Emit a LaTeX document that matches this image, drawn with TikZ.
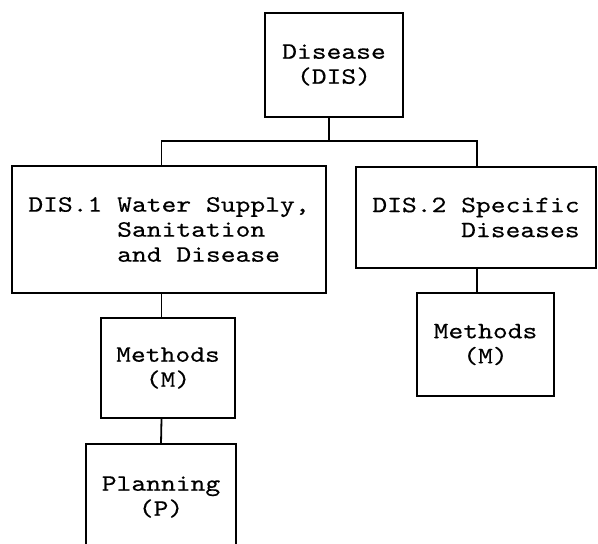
\documentclass[tikz,border=0pt]{standalone}
\usepackage{fontspec}
\setmonofont{lmmono10-regular.otf}[FakeStretch=1.2, FakeBold=0.4]
\usepackage{tikz}

\begin{document}
\begin{tikzpicture}[x=1pt, y=-1pt,
  box/.style={draw, line width=1.8pt, inner sep=0pt, align=center,
    font=\ttfamily\fontsize{23.5}{25}\selectfont},
  link/.style={line width=1.8pt}]
\useasboundingbox (0,0) rectangle (598,544);

% Top box
\node[box, minimum width=138pt, minimum height=104pt] (dis) at (334,65) {Disease\\(DIS)};

% Second level
\node[box, minimum width=314pt, minimum height=127pt, align=left] (dis1) at (169,229.5)
  {DIS.1 Water Supply,\\\phantom{DIS.1 }Sanitation\\\phantom{DIS.1 }and Disease};
\node[box, minimum width=240pt, minimum height=101pt, align=left] (dis2) at (476,217.5)
  {DIS.2 Specific\\\phantom{DIS.2 }Diseases};

% Methods boxes
\node[box, minimum width=134pt, minimum height=100pt] (meth1) at (168,368) {Methods\\(M)};
\node[box, minimum width=137pt, minimum height=103pt] (meth2) at (485.5,344.5) {Methods\\(M)};

% Planning box, open at the foot
\node[box, draw=none, minimum width=148pt] (plan) at (161,497) {Planning\\(P)};
\coordinate (planTop) at (161,444);
\coordinate (planFoot) at (161,544);
\draw[link] (plan.west |- planFoot) -- (plan.west |- planTop) -- (plan.east |- planTop) -- (plan.east |- planFoot);

% Connectors
\coordinate (colT) at (329,0);
\coordinate (colL) at (161.5,0);
\coordinate (colR) at (477,0);
\coordinate (bus) at (0,141);
\draw[link] (dis.south -| colT) -- (colT |- bus);
\draw[link] (dis1.north -| colL) |- (bus -| colR) -- (dis2.north -| colR);
\draw[link] (dis1.south -| colL) -- (meth1.north -| colL);
\draw[link] (meth1.south -| colL) -- (planTop);
\draw[link] (dis2.south -| colR) -- (meth2.north -| colR);

\end{tikzpicture}
\end{document}
